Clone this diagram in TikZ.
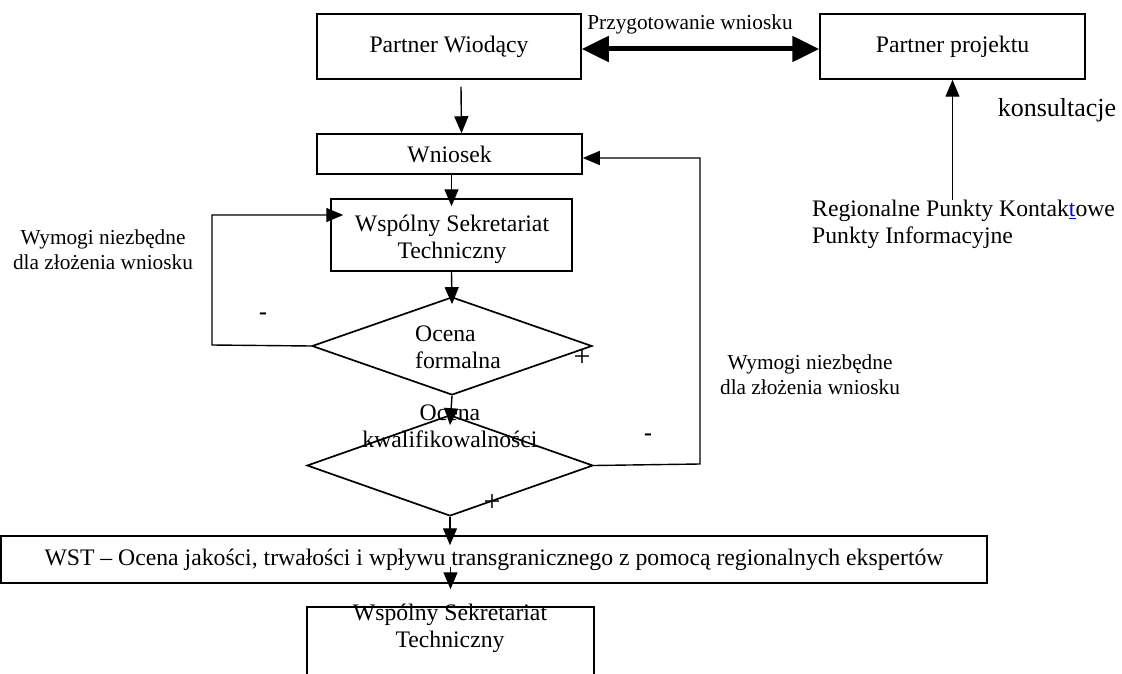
\documentclass[tikz,border=0pt]{standalone}
\usepackage{fontspec}
\setmainfont{Liberation Serif}
\usetikzlibrary{arrows.meta,shapes.geometric}
\newcommand\mainsz{\fontsize{23.7}{27}\selectfont}
\newcommand\smallsz{\fontsize{21.3}{25}\selectfont}
\newcommand\konsz{\fontsize{26}{30}\selectfont}
\newcommand\plussz{\fontsize{30}{30}\selectfont}
\tikzset{
  box/.style={draw, line width=1.5pt, inner sep=0pt, font=\mainsz, align=center},
  dia/.style={draw, shape=diamond, line width=1.7pt, inner sep=0pt},
  lbl/.style={inner sep=0pt, font=\mainsz, align=center},
  slbl/.style={inner sep=0pt, font=\smallsz, align=center},
  arr/.style={-{Triangle[length=17pt,width=14pt]}, line width=1.4pt},
  dbl/.style={{Triangle[length=27pt,width=25pt]}-{Triangle[length=27pt,width=25pt]}, line width=5pt}
}
\begin{document}
\begin{tikzpicture}[x=1pt,y=-1pt]
\useasboundingbox (0,0) rectangle (1122,674);
\clip (0,0) rectangle (1122,674);
% boxes
\node[box, minimum width=264pt, minimum height=65pt] (pw) at (449,46.5) {Partner Wiodący};
\node[box, minimum width=265pt, minimum height=65pt] (pp) at (952.5,46.5) {Partner projektu};
\node[box, minimum width=265pt, minimum height=40pt] (wn) at (449.5,154) {Wniosek};
\node[box, minimum width=241pt, minimum height=72pt] (wst) at (451.5,235) {};
\node[lbl] (wsttxt) at (452,239.5) {Wspólny Sekretariat\\Techniczny};
\node[dia, minimum width=280pt, minimum height=98pt] (d1) at (452,346) {};
\node[lbl, align=left] (d1txt) at (458,347) {Ocena\\formalna};
\node[dia, minimum width=286pt, minimum height=101pt] (d2) at (450,465.5) {};
\node[lbl] (d2txt) at (450,426) {Ocena\\kwalifikowalności};
\node[box, minimum width=986pt, minimum height=47pt] (wl) at (494,559.5) {WST – Ocena jakości, trwałości i wpływu transgranicznego z pomocą regionalnych ekspertów};
\node[box, minimum width=287pt, minimum height=86pt] (fin) at (450.5,650) {};
\node[lbl] (fintxt) at (450,628.5) {Wspólny Sekretariat\\Techniczny};
% labels
\node[slbl] (przyg) at (690,24) {Przygotowanie wniosku};
\node[inner sep=0pt, font=\konsz] (kons) at (1057,110) {konsultacje};
\node[lbl, align=left, anchor=west] (rpk) at (812,224) {Regionalne Punkty Kontak{\color{blue}\underline{t}}owe\\Punkty Informacyjne};
\node[slbl] (wymL) at (103,249.5) {Wymogi niezbędne\\dla złożenia wniosku};
\node[slbl] (wymR) at (810,375) {Wymogi niezbędne\\dla złożenia wniosku};
\node[lbl, font=\bfseries\mainsz] (m1) at (263,316) {-};
\node[lbl, font=\bfseries\mainsz] (m2) at (648,437) {-};
\node[lbl, font=\plussz] (p1) at (582,358) {+};
\node[lbl, font=\plussz] (p2) at (492,503) {+};
% coordinates
\coordinate (L1) at (212,215);
\coordinate (L2) at (212,345);
\coordinate (R1) at (700,158);
\coordinate (R2) at (700,464);
% connectors
\draw[dbl] ([yshift=-2.5pt]pw.east) -- ([yshift=-2.5pt]pp.west);
\draw[arr] ([xshift=12pt,yshift=-7pt]pw.south) -- ([xshift=12pt]wn.north);
\draw[arr] (wst.north |- wn.south) -- ([yshift=-8pt]wst.north);
\draw[arr] (wst.south) -- ([yshift=-8pt]d1.north);
\draw[arr] (d1.south) -- ([yshift=-11pt]d2.north);
\draw[arr] (d2.south) -- ([yshift=-10pt]d2.south |- wl.north);
\draw[arr] ([yshift=-7pt]wl.center -| fin.north) -- ([yshift=17pt]fin.north);
\draw[arr] (d1.west) -- (L2) -- (L1) -- ([xshift=13pt]L1 -| wst.west);
\draw[arr] (d2.east) -- (R2) -- (R1) -- (R1 -| wn.east);
\draw[arr] (pp.south |- rpk.north) -- (pp.south);
\end{tikzpicture}
\end{document}
